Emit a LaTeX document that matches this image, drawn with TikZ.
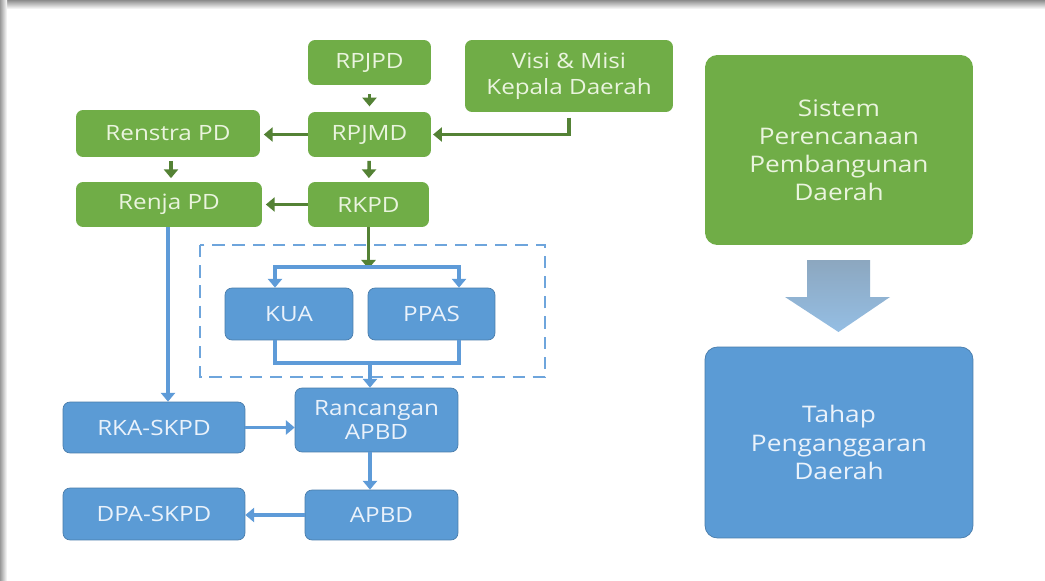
\documentclass[tikz,border=0pt]{standalone}
\usepackage{fontspec}
\setmainfont{Open Sans}[FakeStretch=1.15]
\usetikzlibrary{arrows.meta}
\definecolor{pgreen}{HTML}{70AD47}
\definecolor{pgreendark}{HTML}{548235}
\definecolor{pblue}{HTML}{5B9BD5}
\definecolor{pbluearrow}{HTML}{5E9BD8}
\definecolor{pgreentext}{HTML}{EAF4DE}
\definecolor{pbluetext}{HTML}{EAF2FB}
\tikzset{
  gbox/.style={fill=pgreen, rounded corners=4pt, text=pgreentext, align=center,
    font=\fontsize{12}{15}\selectfont, inner sep=0pt},
  bbox/.style={fill=pblue, rounded corners=4pt, text=pbluetext, align=center,
    font=\fontsize{12}{14}\selectfont, inner sep=0pt, draw=pblue!80!black, line width=0.4pt},
  garrow/.style={draw=pgreendark, line width=2pt, -{Triangle[width=8pt,length=5pt]}},
  barrow/.style={draw=pbluearrow, line width=2pt, -{Triangle[width=8pt,length=5pt]}},
  bline/.style={draw=pbluearrow, line width=2pt},
  dashbox/.style={draw=pbluearrow!90, line width=1.5pt, dash pattern=on 7pt off 4.5pt}
}
\begin{document}
\begin{tikzpicture}[x=0.02cm,y=-0.02cm]
  \useasboundingbox (0,0) rectangle (1045,581);
  \fill[white] (0,0) rectangle (1045,581);
  \shade[top color=black!45, bottom color=white] (0,0) rectangle (1045,9);
  \shade[left color=black!40, right color=white] (0,0) rectangle (7,581);

  \node[gbox, minimum width=2.46cm, minimum height=0.90cm] (rpjpd) at (369.5,62.5) {RPJPD};
  \node[gbox, minimum width=4.16cm, minimum height=1.44cm] (visi) at (569,76) {Visi \& Misi\\Kepala Daerah};
  \node[gbox, minimum width=3.68cm, minimum height=0.94cm] (renstra) at (168,133.5) {Renstra PD};
  \node[gbox, minimum width=2.46cm, minimum height=0.90cm] (rpjmd) at (369.5,134.5) {RPJMD};
  \node[gbox, minimum width=3.72cm, minimum height=0.90cm] (renja) at (169,204.5) {Renja PD};
  \node[gbox, minimum width=2.42cm, minimum height=0.90cm] (rkpd) at (368.5,204.5) {RKPD};

  \node[bbox, minimum width=2.56cm, minimum height=1.04cm] (kua) at (289,314) {KUA};
  \node[bbox, minimum width=2.54cm, minimum height=1.04cm] (ppas) at (431.5,314) {PPAS};
  \node[bbox, minimum width=3.26cm, minimum height=1.28cm] (ranc) at (376.5,420) {Rancangan\\APBD};
  \node[bbox, minimum width=3.64cm, minimum height=1.02cm] (rka) at (154,427.5) {RKA-SKPD};
  \node[bbox, minimum width=3.64cm, minimum height=1.04cm] (dpa) at (154,514) {DPA-SKPD};
  \node[bbox, minimum width=3.06cm, minimum height=1.00cm] (apbd) at (381.5,515) {APBD};

  \node[gbox, minimum width=5.36cm, minimum height=3.80cm, rounded corners=7pt,
    font=\fontsize{13}{16}\selectfont] (sistem) at (839,150) {Sistem\\Perencanaan\\Pembangunan\\Daerah};
  \node[bbox, minimum width=5.36cm, minimum height=3.82cm, rounded corners=7pt,
    font=\fontsize{13}{16}\selectfont] (tahap) at (839,442.5) {Tahap\\Penganggaran\\Daerah};

  \draw[dashbox] (200,245) rectangle (545,377);

  \coordinate (fork) at (368.5,267);
  \coordinate (kin) at (275,267);
  \coordinate (pin) at (459,267);
  \coordinate (join) at (370,363);

  \draw[garrow, shorten <=5pt, shorten >=3pt] (rpjpd) -- (rpjmd);
  \draw[garrow, shorten <=3pt, shorten >=1pt] (visi.south) |- (rpjmd.east);
  \draw[garrow, shorten >=2pt] (rpjmd.west) -- (rpjmd.west -| renstra.east);
  \draw[garrow, shorten <=2pt, shorten >=2pt] (rpjmd) -- (rkpd);
  \draw[garrow, shorten <=2pt, shorten >=2pt] (renstra.south -| 171,0) -- (renja.north -| 171,0);
  \draw[garrow, shorten >=2pt] (rkpd.west) -- (rkpd.west -| renja.east);
  \draw[garrow, shorten >=-1pt] (rkpd.south) -- (fork);

  \draw[barrow] (fork) -- (kin) -- (kin |- kua.north);
  \draw[barrow] (fork) -- (pin) -- (pin |- ppas.north);
  \draw[bline] (kin |- kua.south) -- (kin |- join) -- (pin |- join) -- (pin |- ppas.south);
  \draw[barrow] (join) -- (join |- ranc.north);

  \draw[barrow] (renja.south -| 168,0) -- (rka.north -| 168,0);
  \draw[barrow] (rka.east) -- (rka.east -| ranc.west);
  \draw[barrow] (join |- ranc.south) -- (join |- apbd.north);
  \draw[barrow] (apbd.west) -- (apbd.west -| dpa.east);

  \shade[top color=black!30!pblue!60, bottom color=pblue!65!white]
    (807,260) -- (870,260) -- (870,297) -- (890,297) -- (838.5,332)
    -- (785,297) -- (807,297) -- cycle;
\end{tikzpicture}
\end{document}
